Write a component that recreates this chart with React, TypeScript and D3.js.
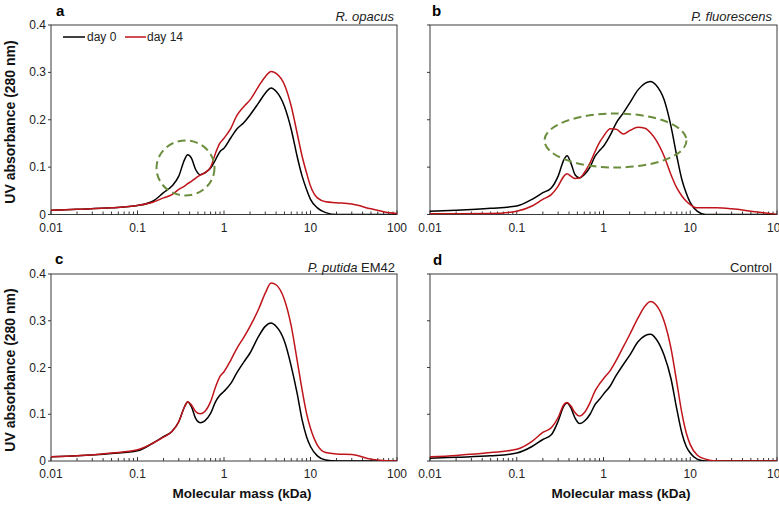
import React from 'react';
import * as d3 from 'd3';

// Molecular mass grid (kDa), shared by every series
const massKDa = [0.01, 0.02, 0.05, 0.1, 0.15, 0.2, 0.25, 0.3, 0.35, 0.38, 0.42, 0.47, 0.53, 0.6, 0.7, 0.8, 0.9, 1, 1.2, 1.4, 1.7, 2, 2.5, 3, 3.5, 4, 5, 6, 7, 8, 9, 10, 12, 15, 20, 30, 50, 70, 100];

// Panel a — R. opacus
const aDay0 = [0.009, 0.011, 0.014, 0.019, 0.028, 0.046, 0.06, 0.081, 0.116, 0.126, 0.119, 0.095, 0.084, 0.088, 0.098, 0.116, 0.133, 0.14, 0.162, 0.18, 0.194, 0.21, 0.235, 0.256, 0.267, 0.26, 0.228, 0.179, 0.123, 0.081, 0.053, 0.032, 0.014, 0.004, 0, 0, 0, 0, 0];
const aDay14 = [0.009, 0.011, 0.014, 0.019, 0.026, 0.035, 0.042, 0.053, 0.06, 0.065, 0.07, 0.077, 0.083, 0.088, 0.1, 0.13, 0.151, 0.161, 0.182, 0.208, 0.228, 0.242, 0.27, 0.291, 0.302, 0.298, 0.274, 0.228, 0.172, 0.123, 0.088, 0.06, 0.035, 0.027, 0.025, 0.022, 0.012, 0.006, 0.002];

// Panel b — P. fluorescens
const bDay0 = [0.007, 0.009, 0.013, 0.018, 0.032, 0.046, 0.056, 0.081, 0.116, 0.124, 0.109, 0.084, 0.077, 0.084, 0.1, 0.123, 0.135, 0.144, 0.168, 0.193, 0.215, 0.235, 0.263, 0.277, 0.281, 0.274, 0.242, 0.186, 0.123, 0.074, 0.045, 0.025, 0.007, 0, 0, 0, 0, 0, 0];
const bDay14 = [0.0015, 0.0015, 0.002, 0.007, 0.018, 0.032, 0.042, 0.06, 0.081, 0.086, 0.081, 0.076, 0.077, 0.088, 0.109, 0.133, 0.152, 0.165, 0.181, 0.18, 0.17, 0.177, 0.184, 0.182, 0.172, 0.158, 0.123, 0.084, 0.056, 0.039, 0.028, 0.021, 0.014, 0.014, 0.014, 0.012, 0.007, 0.0035, 0];

// Panel c — P. putida EM42
const cDay0 = [0.009, 0.011, 0.016, 0.022, 0.038, 0.052, 0.063, 0.084, 0.116, 0.126, 0.116, 0.091, 0.082, 0.086, 0.102, 0.127, 0.141, 0.149, 0.166, 0.188, 0.212, 0.231, 0.266, 0.288, 0.295, 0.288, 0.256, 0.202, 0.145, 0.088, 0.052, 0.031, 0.011, 0.002, 0, 0, 0, 0, 0];
const cDay14 = [0.009, 0.011, 0.017, 0.024, 0.038, 0.051, 0.063, 0.084, 0.116, 0.127, 0.12, 0.106, 0.101, 0.106, 0.127, 0.159, 0.181, 0.191, 0.216, 0.24, 0.265, 0.288, 0.324, 0.359, 0.381, 0.377, 0.345, 0.288, 0.216, 0.152, 0.102, 0.07, 0.034, 0.018, 0.015, 0.014, 0.004, 0.001, 0];

// Panel d — Control
const dDay0 = [0.006, 0.008, 0.011, 0.017, 0.031, 0.046, 0.056, 0.085, 0.118, 0.124, 0.114, 0.092, 0.08, 0.085, 0.1, 0.121, 0.132, 0.143, 0.161, 0.183, 0.207, 0.226, 0.255, 0.268, 0.271, 0.262, 0.226, 0.176, 0.111, 0.06, 0.031, 0.017, 0.004, 0, 0, 0, 0, 0, 0];
const dDay14 = [0.009, 0.012, 0.018, 0.025, 0.042, 0.061, 0.071, 0.093, 0.121, 0.125, 0.118, 0.103, 0.096, 0.103, 0.125, 0.15, 0.165, 0.176, 0.194, 0.215, 0.245, 0.27, 0.306, 0.331, 0.341, 0.335, 0.299, 0.241, 0.168, 0.103, 0.06, 0.035, 0.013, 0.004, 0, 0, 0, 0, 0];

const xTickValues = [0.01, 0.1, 1, 10, 100];
const xTickLabels = ['0.01', '0.1', '1', '10', '100'];
const yTickValues = [0, 0.1, 0.2, 0.3, 0.4];
const yTickLabels = ['0', '0.1', '0.2', '0.3', '0.4'];
const panelLetters = ['a', 'b', 'c', 'd'];
const legendLabels = ['day 0', 'day 14'];
const yAxisTitle = 'UV absorbance (280 nm)';
const xAxisTitle = 'Molecular mass (kDa)';

const FONT = '"Liberation Sans", Arial, Helvetica, sans-serif';
const BLACK = '#000000';
const RED = '#c0141b';
const GREEN = '#6b8e3d';
const AXIS = '#3a3a3a';

type Panel = {
  letter: string;
  day0: number[];
  day14: number[];
  left: number; right: number; top: number; bottom: number;
  showYLabels: boolean;
  title: React.ReactNode;
  letterX: number; letterY: number;
  titleX: number; titleY: number;
  ellipse?: { cx: number; cy: number; rx: number; ry: number };
  legend?: boolean;
};

function PanelView({ p }: { p: Panel }) {
  const x = d3.scaleLog().domain([0.01, 100]).range([p.left, p.right]);
  const y = d3.scaleLinear().domain([0, 0.4]).range([p.bottom, p.top]);
  const line = d3
    .line<number>()
    .x((_, i) => x(massKDa[i]))
    .y((v) => y(v))
    .curve(d3.curveMonotoneX);

  const minorTicks: number[] = [];
  for (let dec = 0.01; dec < 100; dec *= 10) {
    for (let m = 2; m <= 9; m++) minorTicks.push(+(dec * m).toPrecision(3));
  }

  return (
    <g>
      <defs>
        <clipPath id={`clip-${p.letter}`}>
          <rect x={p.left} y={p.top - 2} width={p.right - p.left} height={p.bottom - p.top + 2} />
        </clipPath>
      </defs>
      <rect x={p.left} y={p.top} width={p.right - p.left} height={p.bottom - p.top} fill="none" stroke={AXIS} strokeWidth={1} />
      {xTickValues.map((v) => (
        <line key={`M${v}`} x1={x(v)} x2={x(v)} y1={p.bottom} y2={p.bottom - 4} stroke={AXIS} strokeWidth={1} />
      ))}
      {minorTicks.map((v) => (
        <line key={`m${v}`} x1={x(v)} x2={x(v)} y1={p.bottom} y2={p.bottom - 3} stroke={AXIS} strokeWidth={1} />
      ))}
      {yTickValues.map((v) => (
        <line key={`y${v}`} x1={p.left - 3} x2={p.left} y1={y(v)} y2={y(v)} stroke={AXIS} strokeWidth={1} />
      ))}
      {xTickValues.map((v, i) => (
        <text key={`xl${v}`} x={x(v)} y={p.bottom + 17} textAnchor="middle" fontFamily={FONT} fontSize={12} fill="#222">
          {xTickLabels[i]}
        </text>
      ))}
      {p.showYLabels &&
        yTickValues.map((v, i) => (
          <text key={`yl${v}`} x={p.left - 5} y={y(v) + 4} textAnchor="end" fontFamily={FONT} fontSize={12} fill="#222">
            {yTickLabels[i]}
          </text>
        ))}
      <g clipPath={`url(#clip-${p.letter})`}>
        <path d={line(p.day0) || ''} fill="none" stroke={BLACK} strokeWidth={1.5} />
        <path d={line(p.day14) || ''} fill="none" stroke={RED} strokeWidth={1.5} />
      </g>
      {p.ellipse && (
        <ellipse
          cx={p.ellipse.cx}
          cy={p.ellipse.cy}
          rx={p.ellipse.rx}
          ry={p.ellipse.ry}
          fill="none"
          stroke={GREEN}
          strokeWidth={2}
          strokeDasharray="8 4.5"
        />
      )}
      <text x={p.letterX} y={p.letterY} fontFamily={FONT} fontSize={15} fontWeight="bold" fill="#000">
        {p.letter}
      </text>
      <text x={p.titleX} y={p.titleY} textAnchor="end" fontFamily={FONT} fontSize={13} fill="#222">
        {p.title}
      </text>
      {p.legend && (
        <g fontFamily={FONT} fontSize={12} fill="#222">
          <line x1={p.left + 12} x2={p.left + 34} y1={37} y2={37} stroke={BLACK} strokeWidth={1.5} />
          <text x={p.left + 36} y={41}>{legendLabels[0]}</text>
          <line x1={p.left + 74} x2={p.left + 95} y1={37} y2={37} stroke={RED} strokeWidth={1.5} />
          <text x={p.left + 96} y={41}>{legendLabels[1]}</text>
        </g>
      )}
    </g>
  );
}

export default function App() {
  const panels: Panel[] = [
    {
      letter: panelLetters[0], day0: aDay0, day14: aDay14,
      left: 51, right: 397, top: 25, bottom: 214.5, showYLabels: true,
      title: <tspan fontStyle="italic">R. opacus</tspan>,
      letterX: 56, letterY: 16, titleX: 394, titleY: 21,
      ellipse: { cx: 185.5, cy: 168, rx: 29, ry: 27.5 }, legend: true,
    },
    {
      letter: panelLetters[1], day0: bDay0, day14: bDay14,
      left: 430, right: 777, top: 25, bottom: 214.5, showYLabels: false,
      title: <tspan fontStyle="italic">P. fluorescens</tspan>,
      letterX: 432, letterY: 16, titleX: 772, titleY: 21,
      ellipse: { cx: 615.5, cy: 140.5, rx: 71, ry: 27 },
    },
    {
      letter: panelLetters[2], day0: cDay0, day14: cDay14,
      left: 51, right: 397, top: 274, bottom: 461, showYLabels: true,
      title: (<><tspan fontStyle="italic">P. putida</tspan><tspan> EM42</tspan></>),
      letterX: 55, letterY: 264, titleX: 395, titleY: 272,
    },
    {
      letter: panelLetters[3], day0: dDay0, day14: dDay14,
      left: 430, right: 777, top: 274, bottom: 461, showYLabels: false,
      title: <tspan>Control</tspan>,
      letterX: 433, letterY: 265, titleX: 772, titleY: 272,
    },
  ];

  return (
    <div style={{ position: 'absolute', left: 0, top: 0 }}>
      <svg width={779} height={505} viewBox="0 0 779 505" style={{ display: 'block', background: '#fff' }}>
        <rect x={0} y={0} width={779} height={505} fill="#fff" />
        {panels.map((p) => (
          <PanelView key={p.letter} p={p} />
        ))}
        <text transform="translate(15,122) rotate(-90)" textAnchor="middle" fontFamily={FONT} fontSize={14} fontWeight="bold" fill="#111">
          {yAxisTitle}
        </text>
        <text transform="translate(15,370) rotate(-90)" textAnchor="middle" fontFamily={FONT} fontSize={14} fontWeight="bold" fill="#111">
          {yAxisTitle}
        </text>
        <text x={242} y={498} textAnchor="middle" fontFamily={FONT} fontSize={13.5} fontWeight="bold" fill="#111">
          {xAxisTitle}
        </text>
        <text x={621} y={498} textAnchor="middle" fontFamily={FONT} fontSize={13.5} fontWeight="bold" fill="#111">
          {xAxisTitle}
        </text>
      </svg>
    </div>
  );
}
